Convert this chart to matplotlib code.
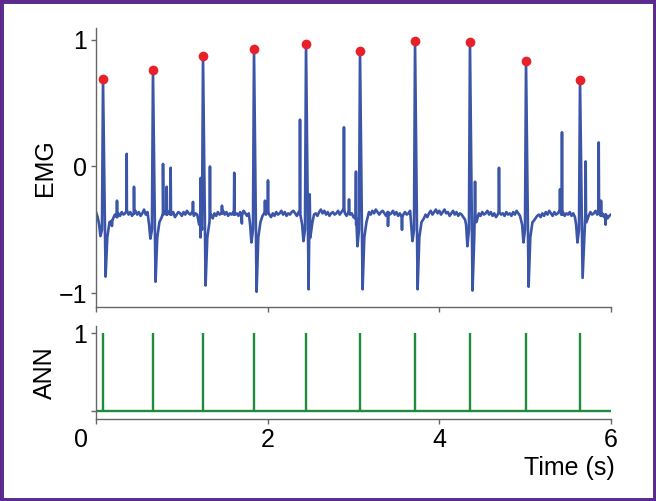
import numpy as np
import matplotlib
matplotlib.use("Agg")
import matplotlib.pyplot as plt
import matplotlib.patches as patches

plt.rcParams['font.family'] = ['Liberation Sans', 'DejaVu Sans']

# beats: time of each peak (s), peak height, dip before, trough after
peak_t = [0.082, 0.664, 1.247, 1.841, 2.447, 3.076, 3.717, 4.357, 5.010, 5.639]
peak_v = [0.69, 0.76, 0.87, 0.93, 0.97, 0.91, 0.99, 0.98, 0.83, 0.68]
predip_v = [-0.55, -0.57, -0.56, -0.60, -0.59, -0.63, -0.59, -0.63, -0.60, -0.60]
trough_v = [-0.87, -0.91, -0.94, -0.99, -0.97, -0.97, -0.97, -0.98, -0.95, -0.88]

# shape of one beat around its peak (time offsets, s)
beat_dt = [-0.045, -0.03, -0.012, 0.0, 0.03, 0.05, 0.075]

# smaller spikes and dips riding on the baseline
spike_t = [0.186, 0.245, 0.358, 0.443, 0.781, 0.824, 0.870, 1.130, 1.220, 1.328,
           1.468, 1.611, 1.700, 1.969, 2.004, 2.377, 2.490, 2.889, 2.948, 3.029,
           3.402, 3.565, 4.416, 4.695, 5.406, 5.429, 5.705, 5.857, 5.884, 5.938]
spike_v = [-0.47, -0.27, 0.10, -0.16, 0.02, -0.16, -0.01, -0.28, -0.09, 0.00,
           -0.31, -0.05, -0.45, -0.27, -0.11, 0.37, -0.22, 0.31, -0.26, -0.04,
           -0.47, -0.50, -0.12, -0.01, -0.18, 0.27, 0.04, 0.19, -0.27, -0.46]

# baseline read every 0.02 s (one row = 0.4 s)
base_step = 0.02
base_v = [
    -0.36, -0.40, -0.38, -0.42, -0.44, -0.46, -0.44, -0.42, -0.40, -0.43, -0.41, -0.38, -0.40, -0.37, -0.39, -0.36, -0.38, -0.37, -0.35, -0.38,
    -0.36, -0.39, -0.37, -0.35, -0.38, -0.36, -0.39, -0.37, -0.34, -0.38, -0.36, -0.37, -0.39, -0.36, -0.38, -0.37, -0.40, -0.42, -0.41, -0.38,
    -0.36, -0.38, -0.37, -0.35, -0.38, -0.36, -0.40, -0.38, -0.36, -0.37, -0.39, -0.36, -0.38, -0.35, -0.37, -0.38, -0.36, -0.39, -0.37, -0.38,
    -0.36, -0.39, -0.41, -0.43, -0.45, -0.42, -0.40, -0.38, -0.41, -0.37, -0.39, -0.36, -0.38, -0.37, -0.35, -0.38, -0.36, -0.39, -0.37, -0.38,
    -0.36, -0.38, -0.37, -0.39, -0.36, -0.38, -0.35, -0.37, -0.39, -0.37, -0.40, -0.38, -0.41, -0.43, -0.45, -0.42, -0.40, -0.39, -0.37, -0.38,
    -0.36, -0.38, -0.40, -0.37, -0.39, -0.36, -0.38, -0.37, -0.35, -0.38, -0.36, -0.39, -0.37, -0.38, -0.36, -0.35, -0.37, -0.39, -0.36, -0.38,
    -0.37, -0.40, -0.42, -0.44, -0.46, -0.43, -0.40, -0.38, -0.37, -0.39, -0.36, -0.34, -0.37, -0.35, -0.38, -0.36, -0.39, -0.37, -0.36, -0.38,
    -0.37, -0.35, -0.38, -0.36, -0.34, -0.37, -0.39, -0.36, -0.38, -0.37, -0.40, -0.41, -0.43, -0.45, -0.47, -0.44, -0.41, -0.39, -0.37, -0.36,
    -0.38, -0.35, -0.37, -0.34, -0.36, -0.38, -0.36, -0.35, -0.37, -0.39, -0.36, -0.38, -0.37, -0.35, -0.38, -0.36, -0.39, -0.37, -0.40, -0.38,
    -0.36, -0.38, -0.37, -0.35, -0.38, -0.37, -0.40, -0.42, -0.44, -0.46, -0.43, -0.41, -0.38, -0.40, -0.37, -0.35, -0.38, -0.36, -0.34, -0.37,
    -0.35, -0.38, -0.36, -0.34, -0.37, -0.36, -0.39, -0.37, -0.35, -0.38, -0.36, -0.39, -0.37, -0.38, -0.40, -0.42, -0.44, -0.46, -0.44, -0.42,
    -0.41, -0.38, -0.40, -0.37, -0.39, -0.36, -0.38, -0.37, -0.35, -0.38, -0.36, -0.39, -0.37, -0.40, -0.38, -0.36, -0.38, -0.37, -0.39, -0.36,
    -0.38, -0.37, -0.39, -0.36, -0.38, -0.35, -0.37, -0.39, -0.36, -0.38, -0.37, -0.40, -0.42, -0.44, -0.46, -0.43, -0.41, -0.39, -0.38, -0.40,
    -0.37, -0.39, -0.36, -0.38, -0.35, -0.37, -0.39, -0.36, -0.38, -0.37, -0.35, -0.38, -0.36, -0.39, -0.37, -0.38, -0.36, -0.39, -0.37, -0.40,
    -0.42, -0.44, -0.46, -0.43, -0.40, -0.38, -0.37, -0.39, -0.36, -0.38, -0.37, -0.35, -0.38, -0.36, -0.39, -0.37, -0.40, -0.38, -0.41, -0.39,
    -0.38]

# annotation track
ann_t = peak_t
ann_v = [1] * len(peak_t)

# assemble the EMG trace from the pieces above
pts = []
for i, v in enumerate(base_v):
    t = i * base_step
    if any(p - 0.05 <= t <= p + 0.085 for p in peak_t):
        continue
    pts.append((t, v))
for p, pk, pd, tr in zip(peak_t, peak_v, predip_v, trough_v):
    vals = [-0.46, pd, -0.50, pk, tr, -0.56, -0.44]
    for dt, v in zip(beat_dt, vals):
        pts.append((p + dt, v))
for t, v in zip(spike_t, spike_v):
    foot = base_v[int(round(t / base_step))]
    pts.append((t - 0.004, foot))
    pts.append((t, v))
    pts.append((t + 0.004, foot))
pts.sort()
emg_t = np.array([q[0] for q in pts])
emg_v = np.array([q[1] for q in pts])

blue = '#3b55a8'
green = '#1e8c3c'
red = '#e8202a'
spine_c = '#666666'

fig = plt.figure(figsize=(6.56, 5.01), dpi=100)
ax1 = fig.add_axes([0.1463, 0.3872, 0.7851, 0.5569])
ax2 = fig.add_axes([0.1463, 0.1637, 0.7851, 0.1856])

ax1.plot(emg_t, emg_v, color=blue, lw=1.9)
ax1.plot(peak_t, peak_v, 'o', color=red, ms=7, mec='none', zorder=3)
ax1.set_xlim(0, 6)
ax1.set_ylim(-1.11, 1.094)
ax1.set_yticks([-1, 0, 1])
ax1.set_yticklabels(['\u22121', '0', '1'])
ax1.set_xticks([0, 2, 4, 6])
ax1.set_xticklabels([])
ax1.set_ylabel('EMG', fontsize=18)
ax1.yaxis.set_label_coords(-0.076, 0.5)

ax2.vlines(ann_t, 0, ann_v, color=green, lw=1.7)
ax2.axhline(0, color=green, lw=1.7)
ax2.set_xlim(0, 6)
ax2.set_ylim(-0.1, 1.09)
ax2.set_yticks([0, 1])
ax2.set_yticklabels(['', '1'])
ax2.set_xticks([0, 2, 4, 6])
ax2.set_xticklabels(['', '2', '4', '6'])
ax2.set_ylabel('ANN', fontsize=18)
ax2.yaxis.set_label_coords(-0.076, 0.5)
ax2.set_xlabel('Time (s)', fontsize=18, loc='right')
ax2.xaxis.set_label_coords(1.008, -0.40)

# the shared "0" sits left of the corner
ax2.annotate('0', xy=(0, 0), xycoords='axes fraction', xytext=(-11, -6.5),
             textcoords='offset points', ha='center', va='top', fontsize=18)

for ax in (ax1, ax2):
    for s in ('top', 'right'):
        ax.spines[s].set_visible(False)
    for s in ('left', 'bottom'):
        ax.spines[s].set_color(spine_c)
        ax.spines[s].set_linewidth(1.0)
    ax.tick_params(direction='out', length=3.5, width=1.0, color=spine_c,
                   labelsize=18, pad=3)

# purple frame
fig.patches.append(patches.Rectangle((0, 0), 1, 1, transform=fig.transFigure,
                                     fill=False, edgecolor='#5b2a8e', lw=5))

fig.savefig('out.png', dpi=100)
